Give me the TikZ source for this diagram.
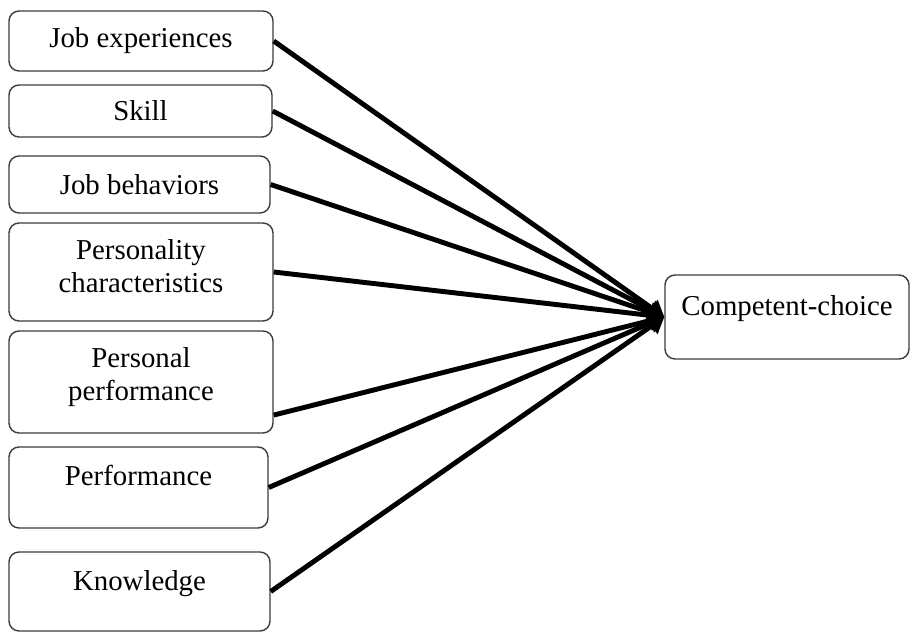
\documentclass[tikz,border=0pt]{standalone}
\usepackage{fontspec}
\setmainfont{Liberation Serif}
\usetikzlibrary{arrows.meta,positioning}
\definecolor{boxgray}{RGB}{60,60,60}

\begin{document}
\begin{tikzpicture}[
  x=0.015cm, y=-0.015cm,
  font=\fontsize{12.3pt}{13.7pt}\selectfont,
  factor/.style={rectangle, rounded corners=0.15cm, draw=boxgray, line width=0.6pt,
    align=center, inner sep=0pt},
  lift/.style={text depth=#1},
  link/.style={line width=2.1pt, -{Triangle[length=6.6pt,width=8.4pt]}}
]
  \useasboundingbox (0,0) rectangle (910,632);

  % Factores de la izquierda.
  \node[factor, minimum width=3.96cm, minimum height=0.9cm] (jobexp) at (141,41) {Job experiences};
  \node[factor, minimum width=3.945cm, minimum height=0.78cm] (skill) at (140.5,111) {Skill};
  \node[factor, minimum width=3.915cm, minimum height=0.855cm] (jobbeh) at (139.5,184.5) {Job behaviors};
  \node[factor, lift=5.1pt, minimum width=3.96cm, minimum height=1.47cm] (personality) at (141,272)
    {Personality\\characteristics};
  \node[factor, lift=6.8pt, minimum width=3.96cm, minimum height=1.53cm] (perspers) at (141,382)
    {Personal\\performance};
  \node[factor, lift=10.2pt, minimum width=3.885cm, minimum height=1.215cm] (perf) at (138.5,487.5) {Performance};
  \node[factor, lift=9.4pt, minimum width=3.915cm, minimum height=1.185cm] (knowledge) at (139.5,591.5) {Knowledge};

  % Resultado.
  \node[factor, lift=10.1pt, minimum width=3.66cm, minimum height=1.26cm] (choice) at (787,317) {Competent-choice};

  % Flechas hacia la elección.
  \draw[link] (jobexp.east) -- (choice.west);
  \draw[link] (skill.east) -- (choice.west);
  \draw[link] (jobbeh.east) -- (choice.west);
  \draw[link] (personality.east) -- (choice.west);
  \draw[link] (perspers.-14) -- (choice.west);
  \draw[link] (perf.east) -- (choice.west);
  \draw[link] (knowledge.east) -- (choice.west);
\end{tikzpicture}
\end{document}
